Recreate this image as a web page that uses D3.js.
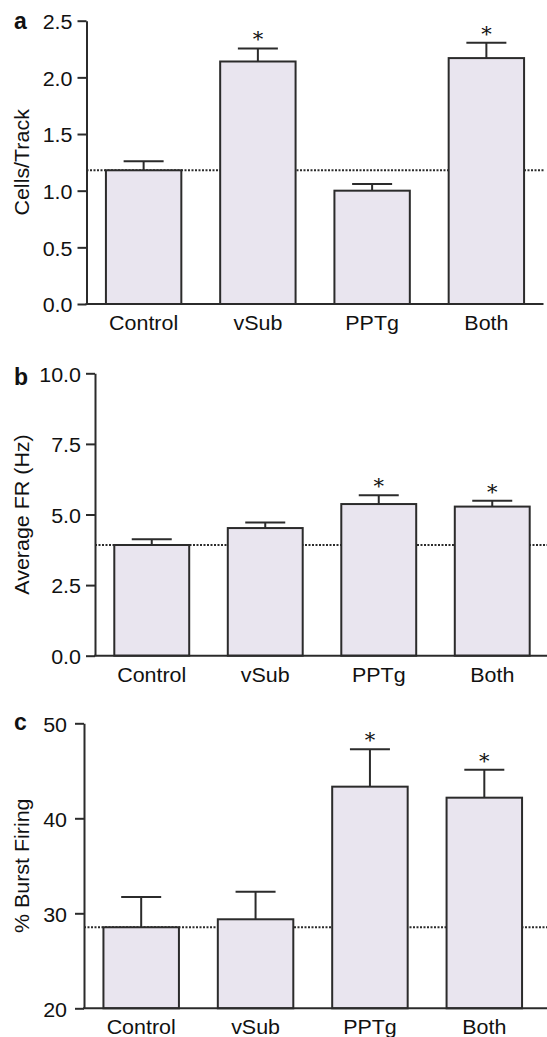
<!DOCTYPE html>
<html>
<head>
<meta charset="utf-8">
<script src="https://cdn.jsdelivr.net/npm/d3@7"></script>
<style>
  html, body { margin: 0; padding: 0; background: #fff; }
  svg { display: block; }
  text { font-family: "Liberation Sans", Arial, Helvetica, sans-serif; fill: #111; }
</style>
</head>
<body>
<svg id="chart" width="547" height="1037"></svg>
<script>
// ---------- data ----------
const categories = ["Control", "vSub", "PPTg", "Both"];

// panel a
const cellsMean = [1.18, 2.14, 1.00, 2.17];
const cellsErr  = [0.08, 0.115, 0.06, 0.135];
const cellsSig  = [false, true, false, true];
const cellsTicks = [0, 0.5, 1.0, 1.5, 2.0, 2.5];
const cellsTickLabels = ["0.0", "0.5", "1.0", "1.5", "2.0", "2.5"];
const cellsRef = 1.18;

// panel b
const frMean = [3.92, 4.52, 5.37, 5.28];
const frErr  = [0.20, 0.20, 0.31, 0.21];
const frSig  = [false, false, true, true];
const frTicks = [0, 2.5, 5.0, 7.5, 10.0];
const frTickLabels = ["0.0", "2.5", "5.0", "7.5", "10.0"];
const frRef = 3.92;

// panel c
const burstMean = [28.53, 29.37, 43.33, 42.17];
const burstErr  = [3.19, 2.90, 3.93, 2.95];
const burstSig  = [false, false, true, true];
const burstTicks = [20, 30, 40, 50];
const burstTickLabels = ["20", "30", "40", "50"];
const burstRef = 28.53;

// ---------- layout ----------
const svg = d3.select("#chart");
const FILL = "#e9e5ef";
const INK = "#2b2b2b";
const SX = 1.1; // horizontal text stretch

const panels = [
  { letter: "a", title: "Cells/Track", mean: cellsMean, err: cellsErr, sig: cellsSig,
    ticks: cellsTicks, tickLabels: cellsTickLabels, ref: cellsRef,
    domain: [0, 2.5], yTop: 20.7, yBot: 304, axisX: 86.5, xEnd: 543.5, lineEnd: 543.5,
    letterY: 29, labelGap: 14 },
  { letter: "b", title: "Average FR (Hz)", mean: frMean, err: frErr, sig: frSig,
    ticks: frTicks, tickLabels: frTickLabels, ref: frRef,
    domain: [0, 10], yTop: 373.3, yBot: 655.7, axisX: 95, xEnd: 549, lineEnd: 547,
    letterY: 385, labelGap: 14 },
  { letter: "c", title: "% Burst Firing", mean: burstMean, err: burstErr, sig: burstSig,
    ticks: burstTicks, tickLabels: burstTickLabels, ref: burstRef,
    domain: [20, 50], yTop: 723.3, yBot: 1008.3, axisX: 84, xEnd: 541.5, lineEnd: 547,
    letterY: 730, labelGap: 17 }
];

panels.forEach(p => {
  const g = svg.append("g");
  const x = d3.scaleBand().domain(categories).range([p.axisX, p.xEnd])
    .paddingInner(0.34).paddingOuter(0.17);
  const y = d3.scaleLinear().domain(p.domain).range([p.yBot, p.yTop]);
  const rows = categories.map((c, i) => ({ c, m: p.mean[i], e: p.err[i], s: p.sig[i] }));

  // dotted reference line (behind bars)
  g.append("line")
    .attr("x1", p.axisX).attr("x2", p.lineEnd)
    .attr("y1", y(p.ref)).attr("y2", y(p.ref))
    .attr("stroke", "#2b2b2b").attr("stroke-width", 2)
    .attr("stroke-dasharray", "2,1.5");

  // error bars
  const eb = g.selectAll(".eb").data(rows).join("g");
  eb.append("line")
    .attr("x1", d => x(d.c) + x.bandwidth() / 2).attr("x2", d => x(d.c) + x.bandwidth() / 2)
    .attr("y1", d => y(d.m)).attr("y2", d => y(d.m + d.e))
    .attr("stroke", INK).attr("stroke-width", 2);
  eb.append("line")
    .attr("x1", d => x(d.c) + x.bandwidth() / 2 - 20).attr("x2", d => x(d.c) + x.bandwidth() / 2 + 20)
    .attr("y1", d => y(d.m + d.e)).attr("y2", d => y(d.m + d.e))
    .attr("stroke", INK).attr("stroke-width", 2);

  // bars
  g.selectAll(".bar").data(rows).join("rect")
    .attr("x", d => x(d.c)).attr("width", x.bandwidth())
    .attr("y", d => y(d.m)).attr("height", d => y(p.domain[0]) - y(d.m))
    .attr("fill", FILL).attr("stroke", INK).attr("stroke-width", 2);

  // significance stars
  g.selectAll(".star").data(rows.filter(d => d.s)).join("text")
    .attr("x", d => x(d.c) + x.bandwidth() / 2)
    .attr("y", d => y(d.m + d.e) - 2)
    .attr("text-anchor", "middle")
    .style("font-family", "'DejaVu Serif', 'Liberation Serif', serif")
    .style("font-size", "21px")
    .attr("fill", "#333")
    .text("*");

  // y axis
  const yAxis = d3.axisLeft(y).tickValues(p.ticks)
    .tickFormat((d, i) => p.tickLabels[i]).tickSize(9).tickSizeOuter(0);
  const ya = g.append("g").attr("transform", `translate(${p.axisX},0)`).call(yAxis);
  ya.select(".domain").attr("stroke", INK).attr("stroke-width", 2);
  ya.selectAll(".tick line").attr("stroke", INK).attr("stroke-width", 2);
  ya.selectAll(".tick text")
    .attr("x", null).attr("dy", "0.4em")
    .attr("transform", `translate(${-p.labelGap},0) scale(${SX},1)`)
    .style("font-size", "19.5px").style("font-family", "'Liberation Sans', Arial, sans-serif")
    .attr("fill", "#111");

  // x axis line
  g.append("line")
    .attr("x1", p.axisX - 1).attr("x2", p.lineEnd)
    .attr("y1", y(p.domain[0])).attr("y2", y(p.domain[0]))
    .attr("stroke", INK).attr("stroke-width", 2);

  // category labels
  g.selectAll(".cat").data(categories).join("text")
    .attr("transform", d => `translate(${x(d) + x.bandwidth() / 2},${y(p.domain[0]) + 26}) scale(${SX},1)`)
    .attr("text-anchor", "middle")
    .style("font-size", "19.5px")
    .text(d => d);

  // y title
  g.append("text")
    .attr("transform", `translate(29,${(p.yTop + p.yBot) / 2}) rotate(-90) scale(${SX},1)`)
    .attr("text-anchor", "middle")
    .style("font-size", "19.5px")
    .text(p.title);

  // panel letter
  g.append("text")
    .attr("x", 14).attr("y", p.letterY)
    .style("font-size", "23px").style("font-weight", "bold")
    .text(p.letter);
});
</script>
</body>
</html>
